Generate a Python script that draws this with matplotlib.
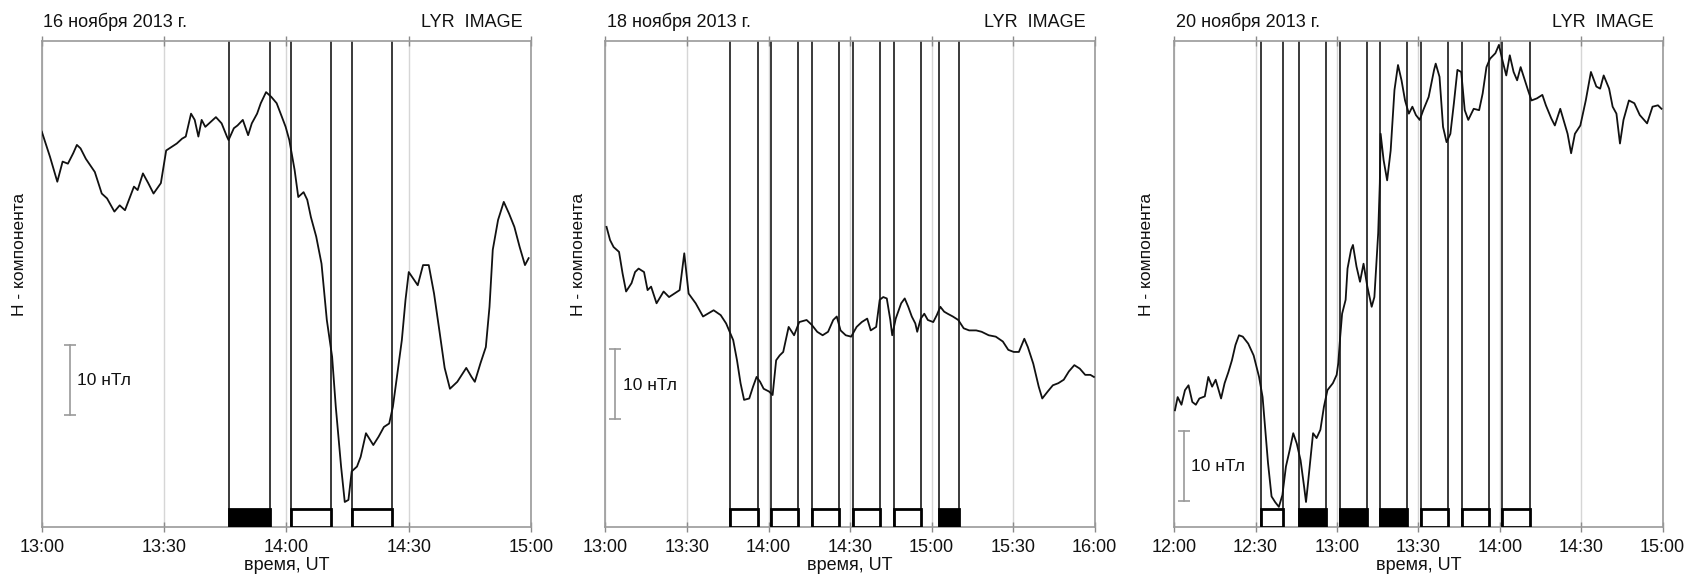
import matplotlib.pyplot as plt
import numpy as np

plt.rcParams['font.family'] = ['Liberation Sans', 'DejaVu Sans']

# H-component, (minutes since left edge, nT)
day16 = np.array([
    (0, 56.9), (2.0, 53.3), (3.8, 49.7), (5.1, 52.6), (6.4, 52.3), (7.7, 53.8),
    (8.6, 55.0), (9.5, 54.5), (10.8, 53.0), (13.0, 51.1), (14.7, 48.0), (16.0, 47.3),
    (17.8, 45.4), (19.1, 46.3), (20.4, 45.6), (22.6, 49.0), (23.5, 48.5), (24.8, 50.9),
    (26.1, 49.5), (27.4, 48.0), (29.2, 49.5), (30.5, 54.2), (31.8, 54.7), (33.1, 55.2),
    (34.4, 55.9), (35.3, 56.2), (36.6, 59.5), (37.5, 58.6), (38.4, 56.2), (39.2, 58.6),
    (40.1, 57.6), (41.4, 58.3), (42.7, 59.0), (44.1, 58.1), (45.4, 56.2), (45.8, 55.7),
    (47.1, 57.4), (48.0, 57.8), (49.3, 58.6), (50.6, 56.4), (51.5, 58.1), (52.8, 59.5),
    (53.7, 61.0), (55.0, 62.6), (56.3, 61.9), (57.6, 61.0), (58.9, 59.0), (59.8, 57.6),
    (60.7, 55.7), (62.0, 51.4), (62.9, 47.5), (64.2, 48.2), (65.1, 47.1), (66.0, 44.6),
    (67.3, 41.8), (68.6, 37.9), (69.9, 29.8), (71.2, 24.5), (72.1, 17.3), (73.4, 8.7),
    (74.3, 3.6), (75.2, 3.9), (76.0, 8.0), (77.3, 8.7), (78.2, 10.1), (79.5, 13.5),
    (81.3, 11.8), (82.6, 13.0), (83.9, 14.4), (85.2, 14.9), (86.1, 17.3), (87.0, 21.2),
    (88.3, 26.9), (89.2, 32.7), (90.0, 36.7), (92.2, 34.8), (93.5, 37.7), (94.9, 37.7),
    (96.2, 33.6), (97.5, 28.3), (98.8, 22.9), (100.1, 19.9), (101.9, 20.9), (104.1, 22.9),
    (105.4, 21.6), (106.2, 20.9), (107.6, 23.6), (108.9, 25.9), (109.8, 31.7), (110.6, 39.9),
    (111.9, 44.2), (113.3, 46.8), (114.6, 45.1), (115.9, 43.2), (117.2, 40.3), (118.5, 37.7),
    (119.4, 38.7),
])

day18 = np.array([
    (0.4, 43.2), (1.7, 41.3), (3.0, 40.3), (5.0, 39.6), (6.3, 36.5), (7.6, 33.9),
    (9.6, 35.1), (10.9, 36.7), (12.2, 37.2), (14.2, 36.7), (15.5, 34.1), (16.8, 34.6),
    (18.8, 32.2), (21.4, 33.9), (23.4, 33.1), (27.3, 34.1), (29.0, 39.4), (30.6, 33.6),
    (33.2, 32.2), (35.9, 30.3), (39.8, 31.2), (42.4, 30.5), (44.4, 29.3), (45.7, 28.1),
    (47.0, 26.9), (48.4, 24.0), (49.7, 20.7), (51.0, 18.3), (52.9, 18.5), (54.3, 20.2),
    (55.6, 21.6), (56.9, 20.9), (58.2, 19.9), (60.2, 19.5), (61.5, 19.0), (62.8, 24.0),
    (64.1, 24.7), (65.4, 25.2), (67.4, 28.8), (69.4, 27.6), (71.3, 29.5), (74.0, 29.8),
    (75.9, 29.1), (77.9, 28.1), (79.9, 27.6), (81.9, 28.1), (83.8, 29.8), (85.1, 30.3),
    (86.5, 28.3), (88.4, 27.6), (90.4, 27.4), (92.4, 28.8), (94.3, 29.5), (96.3, 30.0),
    (97.6, 28.3), (99.6, 28.8), (100.9, 32.7), (102.2, 33.1), (103.5, 32.9), (104.8, 29.8),
    (105.5, 27.6), (106.8, 30.0), (108.8, 32.2), (110.1, 32.9), (111.4, 31.7), (112.7, 30.3),
    (114.0, 29.3), (114.7, 28.1), (116.0, 30.0), (117.3, 30.7), (118.6, 29.8), (120.6, 29.5),
    (121.9, 30.5), (123.2, 31.7), (124.6, 31.0), (125.9, 30.7), (127.8, 30.3), (129.8, 29.8),
    (131.8, 28.6), (133.8, 28.3), (136.4, 28.3), (138.4, 28.1), (141.0, 27.6), (143.6, 27.4),
    (146.2, 26.7), (148.2, 25.5), (150.2, 25.2), (152.1, 25.2), (154.1, 27.1), (155.4, 25.9),
    (157.4, 23.5), (159.4, 20.2), (160.7, 18.5), (162.7, 19.5), (164.6, 20.4), (166.6, 20.7),
    (168.6, 21.2), (170.5, 22.4), (172.5, 23.3), (174.5, 22.8), (176.5, 21.9), (178.4, 21.9),
    (179.7, 21.6),
])

day20 = np.array([
    (0.3, 16.8), (1.3, 18.7), (2.7, 17.6), (4.0, 19.7), (5.3, 20.4), (6.7, 18.0),
    (8.0, 17.6), (9.3, 18.5), (11.3, 18.8), (12.6, 21.6), (14.0, 20.2), (15.3, 21.2),
    (17.3, 18.5), (18.6, 20.7), (20.0, 22.3), (21.3, 24.0), (22.6, 26.2), (23.9, 27.6),
    (25.3, 27.4), (27.3, 26.4), (29.3, 24.7), (31.3, 21.6), (32.6, 18.7), (33.3, 15.4),
    (34.6, 9.2), (35.9, 4.4), (37.2, 3.6), (38.6, 2.9), (39.9, 4.6), (41.2, 8.7),
    (42.6, 11.1), (43.9, 13.5), (45.2, 12.0), (46.6, 9.6), (47.9, 5.8), (48.6, 3.6),
    (49.2, 5.8), (50.6, 11.1), (51.2, 13.5), (52.5, 12.8), (53.9, 14.0), (55.2, 17.3),
    (56.5, 19.7), (58.5, 20.7), (59.9, 21.9), (60.5, 23.6), (61.2, 27.4), (61.9, 30.7),
    (63.2, 32.7), (63.9, 37.2), (65.2, 39.9), (65.9, 40.6), (67.2, 37.5), (68.5, 35.3),
    (69.8, 37.9), (71.2, 34.6), (72.8, 31.7), (73.8, 33.1), (75.2, 42.3), (75.8, 49.5),
    (76.1, 56.6), (77.2, 52.8), (78.5, 49.9), (79.8, 54.2), (81.2, 62.9), (82.5, 66.5),
    (83.8, 64.3), (85.1, 61.4), (86.5, 59.5), (87.8, 60.5), (89.1, 59.3), (90.5, 58.6),
    (91.8, 60.0), (93.8, 61.9), (95.8, 65.8), (96.4, 66.7), (97.8, 64.8), (99.1, 57.6),
    (100.4, 55.4), (101.8, 56.6), (103.1, 61.0), (104.4, 65.8), (105.8, 65.5), (107.1, 60.0),
    (108.4, 58.6), (110.4, 60.2), (112.4, 60.0), (113.7, 62.4), (115.1, 66.2), (116.4, 67.4),
    (118.4, 68.2), (119.7, 69.4), (121.1, 67.0), (122.4, 65.0), (123.7, 67.9), (125.1, 65.5),
    (126.4, 64.3), (127.7, 66.2), (129.0, 64.6), (130.4, 62.9), (131.7, 61.4), (133.7, 61.7),
    (135.7, 62.2), (137.0, 60.7), (139.0, 58.8), (140.3, 57.8), (142.3, 60.2), (145.0, 56.6),
    (146.3, 53.8), (147.7, 56.6), (149.7, 57.8), (151.7, 61.4), (153.6, 65.5), (155.6, 63.4),
    (157.0, 63.1), (158.3, 65.0), (160.3, 63.1), (161.6, 60.5), (163.0, 59.5), (164.3, 55.2),
    (165.6, 58.6), (167.6, 61.4), (169.6, 61.0), (171.6, 59.3), (174.3, 58.1), (176.3, 60.5),
    (178.3, 60.7), (179.6, 60.2),
])

# image intervals: (start min, end min, filled)
intervals16 = [(46, 56, True), (61, 71, False), (76, 86, False)]
intervals18 = [(46, 56, False), (61, 71, False), (76, 86, False),
               (91, 101, False), (106, 116, False), (122.6, 130, True)]
intervals20 = [(32, 40, False), (46, 56, True), (61, 71, True), (76, 86, True),
               (91, 101, False), (106, 116, False), (121, 131, False)]

ticks16 = ['13:00', '13:30', '14:00', '14:30', '15:00']
ticks18 = ['13:00', '13:30', '14:00', '14:30', '15:00', '15:30', '16:00']
ticks20 = ['12:00', '12:30', '13:00', '13:30', '14:00', '14:30', '15:00']

dates = ['16 ноября 2013 г.', '18 ноября 2013 г.', '20 ноября 2013 г.']

# scale bar: (x min, y bottom, y top, text y)
scalebars = [(6.8, 16.1, 26.2, 21.1), (3.7, 15.6, 25.6, 20.4), (3.7, 3.8, 13.8, 8.7)]

panels = [
    (day16, intervals16, ticks16, [0.0248, 0.0898, 0.2902, 0.8399], -0.045),
    (day18, intervals18, ticks18, [0.3591, 0.0898, 0.2902, 0.8399], -0.056),
    (day20, intervals20, ticks20, [0.6964, 0.0898, 0.2897, 0.8399], -0.056),
]

txt = '#111111'

fig = plt.figure(figsize=(16.86, 5.79), dpi=100)

for i, (data, intervals, ticks, pos, ylab_x) in enumerate(panels):
    ax = fig.add_axes(pos)
    span = 30 * (len(ticks) - 1)
    ax.set_xlim(0, span)
    ax.set_ylim(0, 70)
    ax.set_xticks(np.arange(0, span + 1, 30))
    ax.set_xticklabels(ticks)
    ax.set_yticks([])
    ax.set_axisbelow(True)
    ax.grid(axis='x', color='#d6d6d6', linewidth=1.0)
    for s in ax.spines.values():
        s.set_color('#9a9a9a')
        s.set_linewidth(1.2)
    ax.tick_params(axis='x', top=True, direction='inout', length=7, width=1,
                   color='#8a8a8a', labelsize=13, pad=5, labelcolor=txt)

    for a, b, filled in intervals:
        ax.axvline(a, color='#3a3a3a', linewidth=1.4, zorder=2)
        ax.axvline(b, color='#3a3a3a', linewidth=1.4, zorder=2)
        ax.bar(a, 2.6, width=b - a, bottom=0, align='edge',
               facecolor='black' if filled else 'white',
               edgecolor='black', linewidth=2, zorder=3)

    ax.plot(data[:, 0], data[:, 1], color='#111111', linewidth=1.3, zorder=4)

    sx, y0, y1, ty = scalebars[i]
    ax.plot([sx, sx], [y0, y1], color='#9a9a9a', linewidth=1.2, zorder=4)
    ax.plot([sx, sx], [y0, y1], linestyle='none', marker='_', markersize=9,
            markeredgewidth=1.2, color='#9a9a9a', zorder=4)
    ax.text(sx + 1.8 * span / 120, ty, '10 нТл', fontsize=12.5, va='center',
            ha='left', color=txt)

    ax.set_xlabel('время, UT', fontsize=13, labelpad=1, color=txt)
    ax.text(ylab_x, 0.56, 'H - компонента', transform=ax.transAxes, rotation=90,
            fontsize=12.5, ha='center', va='center', color=txt)
    ax.text(0.003, 1.038, dates[i], transform=ax.transAxes, fontsize=13,
            ha='left', va='center', color=txt)
    ax.text(0.982, 1.038, 'LYR  IMAGE', transform=ax.transAxes, fontsize=13,
            ha='right', va='center', color=txt)

fig.savefig('out.png', dpi=100)
